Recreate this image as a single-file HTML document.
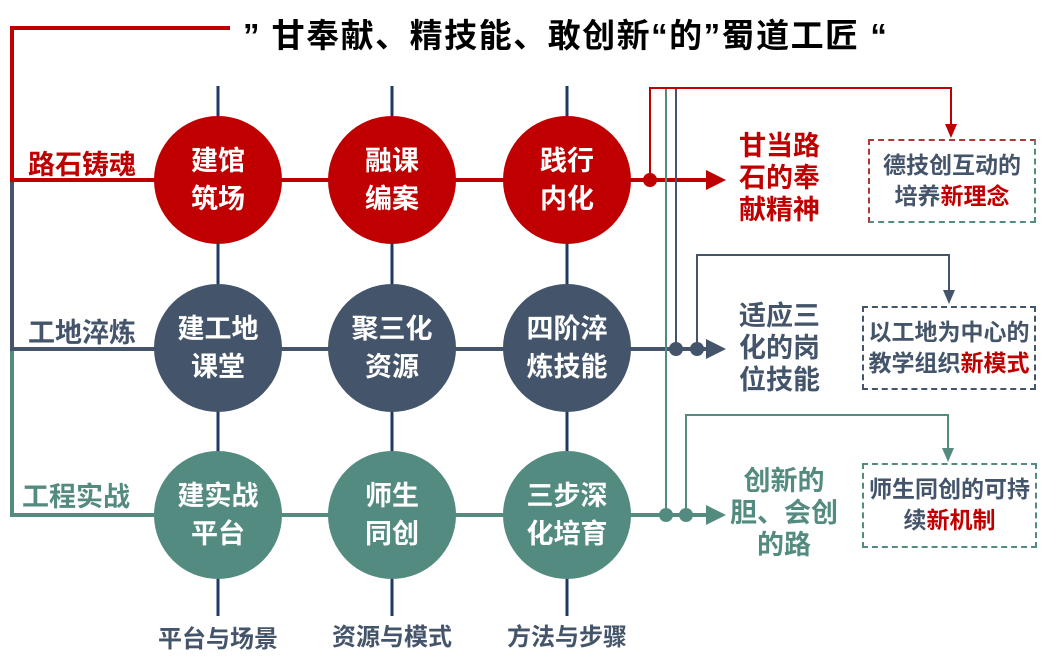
<!DOCTYPE html>
<html><head><meta charset="utf-8"><style>
body{margin:0;width:1058px;height:662px;background:#fff;overflow:hidden;position:relative;font-family:"Liberation Sans","Noto Sans CJK SC",sans-serif;font-weight:bold}
.t{position:absolute;white-space:nowrap}
.c{position:absolute;width:128px;height:128px;border-radius:50%;color:#fff;font-size:27px;line-height:38px;display:flex;align-items:center;justify-content:center;text-align:center}
.box{position:absolute;border:2px dashed #44546a;font-size:23px;line-height:31px;text-align:center;color:#44546a;box-sizing:border-box;padding-top:9px;white-space:nowrap}
.r{color:#c00000}
</style></head><body>
<svg width="1058" height="662" style="position:absolute;left:0;top:0">
<g stroke="#1f3864" stroke-width="3">
<line x1="218" y1="86" x2="218" y2="616"/><line x1="392" y1="86" x2="392" y2="616"/><line x1="567" y1="86" x2="567" y2="616"/>
</g>
<g fill="none" stroke-width="4">
<polyline points="230,28 12,28 12,180" stroke="#c00000"/>
<line x1="12" y1="180" x2="12" y2="348" stroke="#44546a"/>
<polyline points="12,348 12,515 20,515" stroke="#548b80"/>
<line x1="10" y1="180" x2="708" y2="180" stroke="#c00000"/>
<line x1="10" y1="349" x2="708" y2="349" stroke="#44546a"/>
<line x1="10" y1="515" x2="708" y2="515" stroke="#548b80"/>
</g>
<g fill="none" stroke-width="2">
<line x1="666" y1="88" x2="666" y2="515" stroke="#548b80"/>
<line x1="676" y1="88" x2="676" y2="349" stroke="#44546a"/>
<polyline points="650,180 650,88 951,88 951,128" stroke="#c00000"/>
<polyline points="697,349 697,255 949,255 949,294" stroke="#44546a"/>
<polyline points="686,515 686,415 948,415 948,452" stroke="#548b80"/>
</g>
<polygon points="706,170 726,180 706,190" fill="#c00000"/>
<polygon points="706,339 726,349 706,359" fill="#44546a"/>
<polygon points="706,505 726,515 706,525" fill="#548b80"/>
<polygon points="945,124 957,124 951,138" fill="#c00000"/>
<polygon points="943,290 955,290 949,304" fill="#44546a"/>
<polygon points="942,448 954,448 948,462" fill="#548b80"/>
<circle cx="650" cy="180" r="7" fill="#c00000"/>
<circle cx="676" cy="349" r="7" fill="#44546a"/><circle cx="697" cy="349" r="7" fill="#44546a"/>
<circle cx="666" cy="515" r="7" fill="#548b80"/><circle cx="686" cy="515" r="7" fill="#548b80"/>
</svg>
<div class="t" style="left:243px;top:9px;font-size:33px;letter-spacing:1.5px;color:#000">”&nbsp;甘奉献、精技能、敢创新“的”蜀道工匠&nbsp;“</div>
<div class="t" style="left:28px;top:143px;font-size:27px;color:#c00000">路石铸魂</div>
<div class="t" style="left:28px;top:311px;font-size:27px;color:#44546a">工地淬炼</div>
<div class="t" style="left:22px;top:475px;font-size:27px;color:#548b80">工程实战</div>
<div class="c" style="left:154px;top:116px;background:#c00000">建馆<br>筑场</div>
<div class="c" style="left:328px;top:116px;background:#c00000">融课<br>编案</div>
<div class="c" style="left:503px;top:116px;background:#c00000">践行<br>内化</div>
<div class="c" style="left:154px;top:284px;background:#44546a">建工地<br>课堂</div>
<div class="c" style="left:328px;top:284px;background:#44546a">聚三化<br>资源</div>
<div class="c" style="left:503px;top:284px;background:#44546a">四阶淬<br>炼技能</div>
<div class="c" style="left:154px;top:451px;background:#548b80">建实战<br>平台</div>
<div class="c" style="left:328px;top:451px;background:#548b80">师生<br>同创</div>
<div class="c" style="left:503px;top:451px;background:#548b80">三步深<br>化培育</div>
<div class="t" style="left:158px;top:619px;font-size:24px;color:#44546a">平台与场景</div>
<div class="t" style="left:332px;top:617px;font-size:24px;color:#44546a">资源与模式</div>
<div class="t" style="left:507px;top:617px;font-size:24px;color:#44546a">方法与步骤</div>
<div class="t" style="left:739px;top:130px;font-size:27px;line-height:32px;color:#c00000">甘当路<br>石的奉<br>献精神</div>
<div class="t" style="left:739px;top:300px;font-size:27px;line-height:32px;color:#44546a">适应三<br>化的岗<br>位技能</div>
<div class="t" style="left:730px;top:465px;font-size:27px;line-height:32px;color:#548b80;text-align:center">创新的<br>胆、会创<br>的路</div>
<div class="box" style="left:868px;top:139px;width:168px;height:84px;border-color:#a83a3a #548b80 #548b80 #a83a3a">德技创互动的<br>培养<span class="r">新理念</span></div>
<div class="box" style="left:862px;top:306px;width:174px;height:84px">以工地为中心的<br>教学组织<span class="r">新模式</span></div>
<div class="box" style="left:862px;top:463px;width:175px;height:85px;border-color:#548b80">师生同创的可持<br>续<span class="r">新机制</span></div>
</body></html>
